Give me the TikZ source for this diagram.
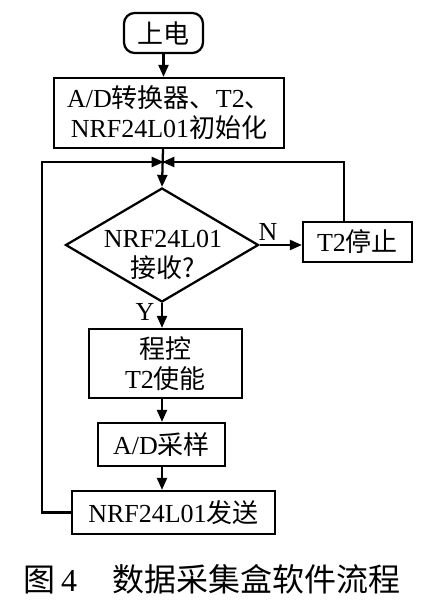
\documentclass[tikz,border=0pt]{standalone}
\usepackage{fontspec}
\setmainfont{Liberation Serif}
\newfontfamily\cjk{Noto Sans CJK SC}
\usetikzlibrary{arrows.meta,shapes.geometric}
\begin{document}
\begin{tikzpicture}[x=0.75pt,y=-0.75pt,
  line width=1.7pt,
  every node/.style={font=\fontsize{19.5}{22.5}\selectfont},
  box/.style={draw,rectangle,inner sep=0pt,align=center},
  term/.style={box,rounded corners=8pt},
  dia/.style={draw,diamond,inner sep=0pt,minimum width=144.75pt,minimum height=85.5pt},
  lbl/.style={inner sep=0pt},
  arr/.style={-{Triangle[length=9pt,width=7.5pt]}}
]
\useasboundingbox (0,0) rectangle (425,603);
\node[term,minimum width=59.25pt,minimum height=30pt] (start) at (163.5,33) {\cjk 上电};
\node[box,minimum width=172.5pt,minimum height=52.5pt] (init) at (169,113)
  {A/D{\cjk 转换器、}T2{\cjk 、}\\NRF24L01{\cjk 初始化}};
\coordinate (j) at (163,162);
\node[dia] (d) at (162,245) {};
\node[lbl,align=center] (dt) at (163,255) {NRF24L01\\{\cjk 接收?}};
\node[box,minimum width=81.75pt,minimum height=30pt] (stop) at (357.5,242) {T2{\cjk 停止}};
\node[box,minimum width=114.75pt,minimum height=51.75pt] (en) at (165.5,363.5) {\cjk 程控\\T2{\cjk 使能}};
\node[box,minimum width=95.25pt,minimum height=32.25pt] (ad) at (161.5,444.5) {A/D{\cjk 采样}};
\node[box,minimum width=152.25pt,minimum height=32.25pt] (send) at (173.5,512.5) {NRF24L01{\cjk 发送}};
\node[lbl] (n) at (268,232) {N};
\node[lbl] (y) at (145,312) {Y};
\node[lbl,font=\fontsize{24}{28}\selectfont] (cap) at (212,579) {{\cjk 图}\,4\hspace{1.1em}{\cjk 数据采集盒软件流程}};
\coordinate (rt) at (344,162);
\coordinate (lt) at (42,162);
\coordinate (lb) at (42,512.5);
\draw[arr] (start.south) -- (start.south |- init.north);
\draw[arr] (init.south -| j) -- (d.north);
\draw[arr] (d.east) -- (d.east -| stop.west);
\draw[arr] (stop.north -| rt) -- (rt) -- ([xshift=-0.5pt]j);
\draw[arr] (send.west) -- (lb) -- (lt) -- ([xshift=0.5pt]j);
\draw[arr] (d.south) -- (d.south |- en.north);
\draw[arr] (en.south -| d.south) -- (d.south |- ad.north);
\draw[arr] (ad.south -| d.south) -- (d.south |- send.north);
\end{tikzpicture}
\end{document}
